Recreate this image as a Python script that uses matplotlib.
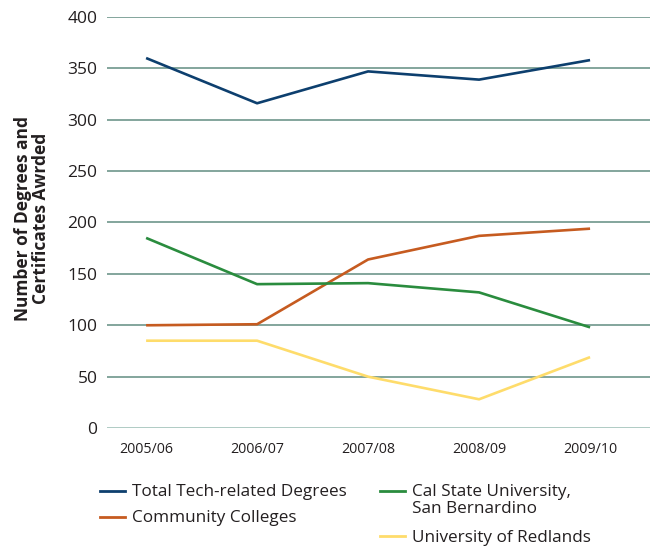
import matplotlib.pyplot as plt
from matplotlib.lines import Line2D

plt.rcParams['font.family'] = ['Open Sans', 'DejaVu Sans']

years = ['2005/06', '2006/07', '2007/08', '2008/09', '2009/10']
total_tech = [360, 316, 347, 339, 358]
community = [100, 101, 164, 187, 194]
cal_state = [185, 140, 141, 132, 98]
redlands = [85, 85, 50, 28, 69]

series = [
    ('Total Tech-related Degrees', total_tech, '#0d3f6e'),
    ('Community Colleges', community, '#c65b20'),
    ('Cal State University,\nSan Bernardino', cal_state, '#2a8c3e'),
    ('University of Redlands', redlands, '#fedc6b'),
]

W, H = 650, 546
fig = plt.figure(figsize=(W / 100, H / 100), dpi=100)
ax = fig.add_axes([0.165, 0.216, 0.835, 0.753])

x = range(len(years))
for label, vals, color in series:
    ax.plot(x, vals, color=color, lw=1.9, solid_capstyle='butt')

ax.set_ylim(0, 400)
ax.set_xlim(-0.35, 4.54)
ax.set_yticks(range(0, 401, 50))
for v in range(50, 401, 50):
    ax.axhline(v, color='#7a9e94', lw=1.3, zorder=0)
ax.axhline(0, color='#a9c7bf', lw=1.3, zorder=0)

ax.set_xticks(list(x))
ax.set_xticklabels(years, fontsize=10.3, color='#231f20')
ax.tick_params(axis='y', labelsize=12.5, length=0, pad=7, labelcolor='#231f20')
ax.tick_params(axis='x', length=0, pad=10)
for s in ax.spines.values():
    s.set_visible(False)

fig.text(0.049, 0.6, 'Number of Degrees and\nCertificates Awrded', rotation=90,
         ha='center', va='center', fontsize=12.5, fontweight='bold', color='#231f20',
         multialignment='center', linespacing=1.0)

# legend laid out by hand: (handle x, row y of first line) in pixels
legend_pos = [(100, 491), (100, 517), (380, 491), (380, 536)]
for (label, vals, color), (px, py) in zip(series, legend_pos):
    yf = 1 - py / H
    fig.add_artist(Line2D([px / W, (px + 25) / W], [yf, yf], color=color, lw=2))
    fig.text((px + 32) / W, yf + 6.5 / H, label, fontsize=12.3, color='#231f20',
             va='top', ha='left', linespacing=1.05)

fig.savefig('out.png', dpi=100)
